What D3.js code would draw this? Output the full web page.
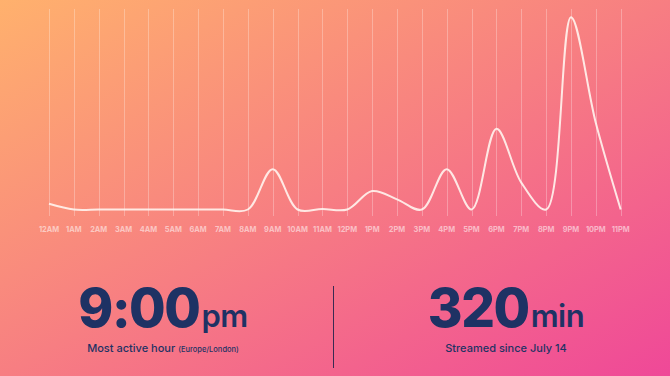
<!DOCTYPE html>
<html lang="en">
<head>
  <meta charset="UTF-8">
  <title>Most active hour</title>
  <script src="https://d3js.org/d3.v7.min.js"></script>
  <style>
    html, body { margin: 0; padding: 0; overflow: hidden; }
    svg { display: block; font-family: Inter, "Open Sans", sans-serif; }
    .grid line { stroke: #fff; stroke-opacity: 0.28; shape-rendering: crispEdges; }
    .tick-label { fill: #fff; fill-opacity: 0.55; font-size: 7.4px; font-weight: 700; }
    .stat { fill: #1e3264; }
  </style>
</head>
<body>
  <svg width="670" height="376"></svg>

  <script>
    // hours and listening per hour
    const hours = ["12AM","1AM","2AM","3AM","4AM","5AM","6AM","7AM","8AM","9AM","10AM","11AM",
                   "12PM","1PM","2PM","3PM","4PM","5PM","6PM","7PM","8PM","9PM","10PM","11PM"];
    const minutes = [3, 0, 0, 0, 0, 0, 0, 0, 0, 21, 0, 0.3,
                     0, 9.6, 5.3, 0, 21, 0, 42, 14, 0, 100, 45, 0];

    const statLeft = { value: "9:00", unit: "pm", label: "Most active hour", note: "(Europe/London)" };
    const statRight = { value: "320", unit: "min", label: "Streamed since July 14" };

    const svg = d3.select("svg");
    const width = +svg.attr("width");
    const height = +svg.attr("height");

    // Fondo degradado
    const grad = svg.append("defs").append("linearGradient")
      .attr("id", "bg").attr("x1", 0).attr("y1", 0).attr("x2", 1).attr("y2", 1);
    grad.append("stop").attr("offset", "0%").attr("stop-color", "#ffb16d");
    grad.append("stop").attr("offset", "50%").attr("stop-color", "#f77e82");
    grad.append("stop").attr("offset", "100%").attr("stop-color", "#ef4898");
    svg.append("rect").attr("width", width).attr("height", height).attr("fill", "url(#bg)");

    const x = d3.scalePoint().domain(hours).range([49, 620.7]);
    const y = d3.scaleLinear().domain([0, d3.max(minutes)]).range([209.5, 17.3]);

    // vertical grid
    svg.append("g")
      .attr("class", "grid")
      .attr("transform", "translate(0,216)")
      .call(d3.axisBottom(x).tickSize(-207).tickFormat(""))
      .call(g => g.select(".domain").remove());

    // labels
    svg.append("g")
      .selectAll("text")
      .data(hours)
      .enter()
      .append("text")
      .attr("class", "tick-label")
      .attr("x", d => x(d))
      .attr("y", 232)
      .attr("text-anchor", "middle")
      .text(d => d);

    // line
    const line = d3.line()
      .x((d, i) => x(hours[i]))
      .y(d => y(d))
      .curve(d3.curveCatmullRom.alpha(0.5));

    svg.append("path")
      .datum(minutes)
      .attr("d", line)
      .attr("fill", "none")
      .attr("stroke", "#fff4ee")
      .attr("stroke-opacity", 0.9)
      .attr("stroke-width", 2)
      .attr("stroke-linejoin", "round");

    // divider
    svg.append("line")
      .attr("x1", 333.5).attr("x2", 333.5)
      .attr("y1", 286).attr("y2", 368)
      .attr("stroke", "#3a2a52").attr("stroke-width", 1);

    function stat(cx, s) {
      const big = svg.append("text")
        .attr("class", "stat")
        .attr("x", cx).attr("y", 327)
        .attr("text-anchor", "middle");
      big.append("tspan")
        .attr("font-size", 53).attr("font-weight", 800).attr("letter-spacing", -1.5)
        .text(s.value);
      big.append("tspan")
        .attr("font-size", 31).attr("font-weight", 600).attr("dx", 2).attr("letter-spacing", -0.5)
        .text(s.unit);

      const sub = svg.append("text")
        .attr("class", "stat")
        .attr("x", cx).attr("y", 352)
        .attr("text-anchor", "middle")
        .attr("font-weight", 500);
      sub.append("tspan").attr("font-size", 11).text(s.label);
      if (s.note) {
        sub.append("tspan").attr("font-size", 7.5).attr("dx", 3).text(s.note);
      }
    }

    stat(163, statLeft);
    stat(506, statRight);
  </script>
</body>
</html>
